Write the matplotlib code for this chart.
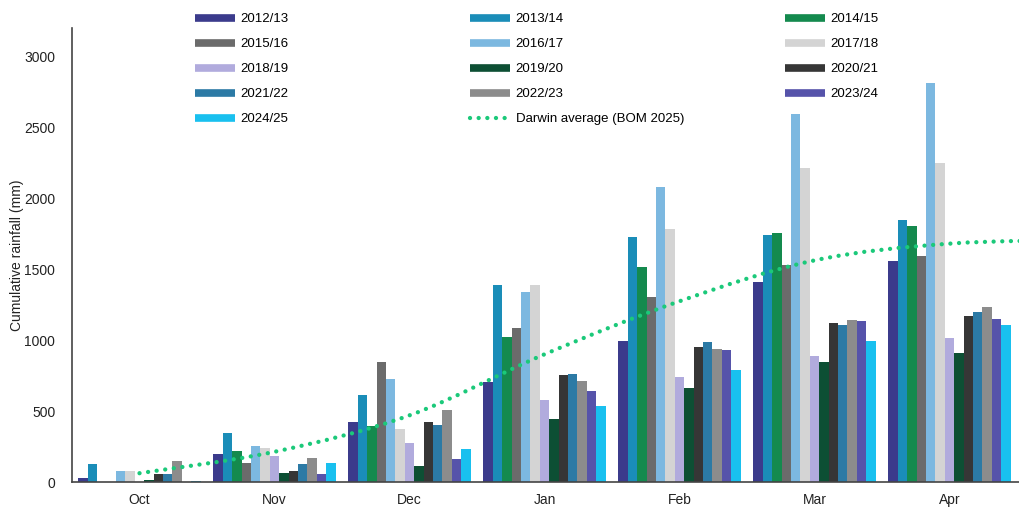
import matplotlib
matplotlib.use("Agg")
import matplotlib.pyplot as plt
import numpy as np
from matplotlib.lines import Line2D
from matplotlib.path import Path
from matplotlib.patches import PathPatch

plt.rcParams['font.family'] = ['Liberation Sans', 'DejaVu Sans']

months = ['Oct', 'Nov', 'Dec', 'Jan', 'Feb', 'Mar', 'Apr']
seasons = ['2012/13', '2013/14', '2014/15', '2015/16', '2016/17', '2017/18', '2018/19',
           '2019/20', '2020/21', '2021/22', '2022/23', '2023/24', '2024/25']

r2012 = [30, 194, 426, 708, 996, 1412, 1555]
r2013 = [128, 346, 616, 1391, 1729, 1743, 1849]
r2014 = [3, 222, 396, 1025, 1518, 1752, 1806]
r2015 = [2, 135, 844, 1088, 1306, 1532, 1590]
r2016 = [81, 257, 729, 1342, 2076, 2597, 2811]
r2017 = [81, 240, 375, 1390, 1783, 2210, 2245]
r2018 = [0, 180, 276, 581, 743, 891, 1015]
r2019 = [15, 62, 116, 442, 661, 844, 910]
r2020 = [58, 81, 424, 757, 954, 1118, 1168]
r2021 = [58, 128, 405, 762, 985, 1109, 1196]
r2022 = [149, 170, 508, 710, 938, 1144, 1236]
r2023 = [0, 53, 163, 644, 931, 1135, 1149]
r2024 = [7, 137, 234, 534, 790, 996, 1109]
series = [r2012, r2013, r2014, r2015, r2016, r2017, r2018,
          r2019, r2020, r2021, r2022, r2023, r2024]

colors = ['#3b3b8c', '#1a8db8', '#148a4e', '#6b6b6b', '#7cb8e0', '#d4d4d4', '#b1abdd',
          '#0d4f34', '#363636', '#2c7aa5', '#8c8c8c', '#5653aa', '#19c0ef']

# Darwin average cumulative (Oct..May; May lies beyond the visible axis)
darwin_months = ['Oct', 'Nov', 'Dec', 'Jan', 'Feb', 'Mar', 'Apr', 'May']
darwin_avg = [62, 213, 470, 900, 1274, 1562, 1680, 1705]
green = '#1bc97a'

W, H = 1019, 508
fig = plt.figure(figsize=(W / 100, H / 100), dpi=100)
ax = fig.add_axes([72 / W, (H - 482) / H, (W - 72) / W, (482 - 28) / H])

n = len(series)
x = np.arange(len(months))
bw = 0.905 / n
for i, (vals, c) in enumerate(zip(series, colors)):
    ax.bar(x - 0.905 / 2 + bw * (i + 0.5), vals, width=bw, color=c, zorder=2, linewidth=0)

# smoothed dotted average line (Bezier through data points)
xd = np.arange(len(darwin_months), dtype=float)
yd = np.array(darwin_avg, dtype=float)
P = np.column_stack([xd, yd])
verts = [P[0]]
codes = [Path.MOVETO]
for i in range(len(P) - 1):
    p0 = P[i - 1] if i > 0 else P[i]
    p1 = P[i]
    p2 = P[i + 1]
    p3 = P[i + 2] if i + 2 < len(P) else P[i + 1]
    c1 = p1 + (p2 - p0) / 6
    c2 = p2 - (p3 - p1) / 6
    verts += [c1, c2, p2]
    codes += [Path.CURVE4] * 3
dot_style = (0, (0.01, 2.0))
patch = PathPatch(Path(verts, codes), fill=False, edgecolor=green, linewidth=3.1,
                  linestyle=dot_style, capstyle='round', zorder=3)
ax.add_patch(patch)

ax.set_xlim(-0.5, (W - 72) / 135 - 0.5)
ax.set_ylim(0, 3200)
ax.set_yticks(np.arange(0, 3001, 500))
ax.set_xticks(x)
ax.set_xticklabels(months)
ax.tick_params(axis='both', length=0, labelsize=10, colors='#222222')
ax.tick_params(axis='y', pad=12)
ax.tick_params(axis='x', pad=8)
for s in ['top', 'right']:
    ax.spines[s].set_visible(False)
for s in ['left', 'bottom']:
    ax.spines[s].set_color('#444444')
    ax.spines[s].set_linewidth(1.2)
ax.set_ylabel('Cumulative rainfall (mm)', fontsize=10, color='#222222')
ax.yaxis.set_label_coords(-48 / (W - 72), 0.5)

# legend: three columns placed like the reference
handles = [Line2D([], [], color=c, lw=5.5, solid_capstyle='butt') for c in colors]
handles.append(Line2D([], [], color=green, lw=3.1, linestyle=dot_style,
                      dash_capstyle='round'))
labels = seasons + ['Darwin average (BOM 2025)']
cols = [[0, 3, 6, 9, 12], [1, 4, 7, 10, 13], [2, 5, 8, 11]]
col_x = [195, 470, 785]
for cx, idx in zip(col_x, cols):
    fig.legend([handles[k] for k in idx], [labels[k] for k in idx],
               loc='upper left', bbox_to_anchor=(cx / W, 1 - 13 / H),
               frameon=False, fontsize=9.5, borderpad=0, borderaxespad=0,
               handlelength=3.0, handletextpad=0.45, labelspacing=0.97)

fig.savefig('out.png', dpi=100)
